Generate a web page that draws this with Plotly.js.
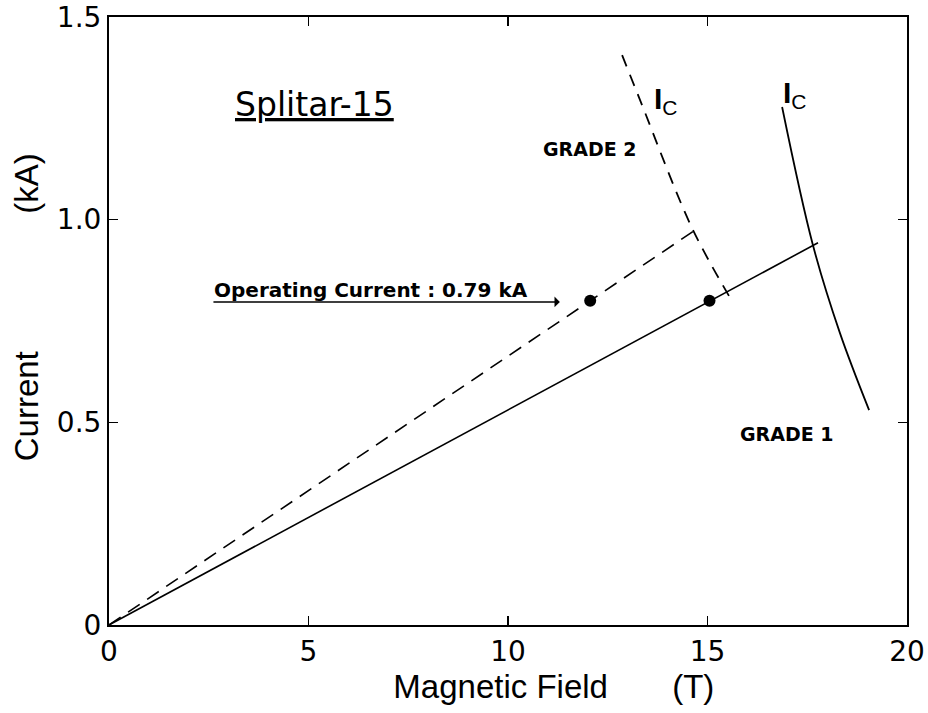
<!DOCTYPE html>
<html>
<head>
<meta charset="utf-8">
<script src="https://cdn.plot.ly/plotly-3.0.1.min.js"></script>
<style>html,body{margin:0;padding:0;background:#fff;}#chart{width:928px;height:713px;}</style>
</head>
<body>
<div id="chart"></div>
<script>
// Load lines (operating line of each grade)
const grade1LineX = [0, 17.77];
const grade1LineY = [0, 0.943];
const grade2LineX = [0, 14.7];
const grade2LineY = [0, 0.975];
// Operating points
const opX = [12.06, 15.05];
const opY = [0.80, 0.80];
// Critical current curves
const ic1X = [16.87, 17.64, 18.32, 19.05];
const ic1Y = [1.278, 0.938, 0.72, 0.53];
const ic2X = [12.86, 13.33, 14.61, 15.61];
const ic2Y = [1.406, 1.29, 0.98, 0.80];
// Axis ticks
const xTicks = [0, 5, 10, 15, 20];
const yTicks = [0, 0.5, 1.0, 1.5];
const yTickText = ['0', '0.5', '1.0', '1.5'];

const FONT = 'Liberation Sans, Arial, Helvetica, sans-serif';
const WIDE = 'DejaVu Sans, Verdana, sans-serif';
const black = '#000';
const sp = n => '\u00a0'.repeat(n);

const traces = [
  {x: grade1LineX, y: grade1LineY, mode: 'lines', line: {color: black, width: 1.6}, hoverinfo: 'skip'},
  {x: grade2LineX, y: grade2LineY, mode: 'lines', line: {color: black, width: 1.6, dash: '14px,9px'}, hoverinfo: 'skip'},
  {x: ic1X, y: ic1Y, mode: 'lines', line: {color: black, width: 1.8, shape: 'spline'}, hoverinfo: 'skip'},
  {x: ic2X, y: ic2Y, mode: 'lines', line: {color: black, width: 1.8, dash: '12px,9px', shape: 'spline'}, hoverinfo: 'skip'},
  {x: opX, y: opY, mode: 'markers', marker: {color: black, size: 12}, hoverinfo: 'skip'}
];

const layout = {
  width: 928, height: 713,
  margin: {l: 109, r: 21, t: 17, b: 88},
  paper_bgcolor: '#fff', plot_bgcolor: '#fff',
  showlegend: false,
  font: {family: FONT, color: black},
  xaxis: {
    range: [0, 20], tickvals: xTicks, ticktext: xTicks.map(String),
    showgrid: false, zeroline: false, showline: true, mirror: 'ticks',
    linecolor: black, linewidth: 2, ticks: 'inside', ticklen: 9, tickwidth: 1.5, tickcolor: black,
    tickfont: {size: 28, family: WIDE, color: black},
    title: {text: '\u200b' + sp(10) + 'Magnetic Field' + sp(7) + '(T)', font: {size: 33, family: FONT, color: black}, standoff: 8}
  },
  yaxis: {
    range: [0, 1.5], tickvals: yTicks, ticktext: yTickText,
    showgrid: false, zeroline: false, showline: true, mirror: 'ticks',
    linecolor: black, linewidth: 2, ticks: 'inside', ticklen: 9, tickwidth: 1.5, tickcolor: black,
    tickfont: {size: 28, family: WIDE, color: black},
    title: {text: '\u200b' + sp(3) + 'Current' + sp(15) + '(kA)', font: {size: 33, family: FONT, color: black}, standoff: 8}
  },
  annotations: [
    {x: 5.16, y: 1.283, xref: 'x', yref: 'y', text: '<u>Splitar-15</u>', showarrow: false,
     font: {size: 33, family: WIDE, color: black}},
    {x: 13.95, y: 1.295, xref: 'x', yref: 'y', text: '<b>I</b><sub>C</sub>', showarrow: false,
     font: {size: 30, family: FONT, color: black}},
    {x: 17.2, y: 1.31, xref: 'x', yref: 'y', text: '<b>I</b><sub>C</sub>', showarrow: false,
     font: {size: 30, family: FONT, color: black}},
    {x: 12.05, y: 1.175, xref: 'x', yref: 'y', text: 'GRADE 2', showarrow: false,
     font: {size: 19, family: WIDE, color: black, weight: 'bold'}},
    {x: 17.0, y: 0.472, xref: 'x', yref: 'y', text: 'GRADE 1', showarrow: false,
     font: {size: 19, family: WIDE, color: black, weight: 'bold'}},
    {x: 2.58, y: 0.792, xref: 'x', yref: 'y', xanchor: 'left', yanchor: 'bottom', text: 'Operating Current : 0.79 kA', showarrow: false,
     font: {size: 20, family: WIDE, color: black, weight: 'bold'}},
    {x: 11.3, y: 0.797, xref: 'x', yref: 'y', ax: 2.58, ay: 0.797, axref: 'x', ayref: 'y',
     text: '', showarrow: true, arrowhead: 1, arrowsize: 1.2, arrowwidth: 1.5, arrowcolor: black}
  ]
};

Plotly.newPlot('chart', traces, layout, {displayModeBar: false, staticPlot: true});
</script>
</body>
</html>
